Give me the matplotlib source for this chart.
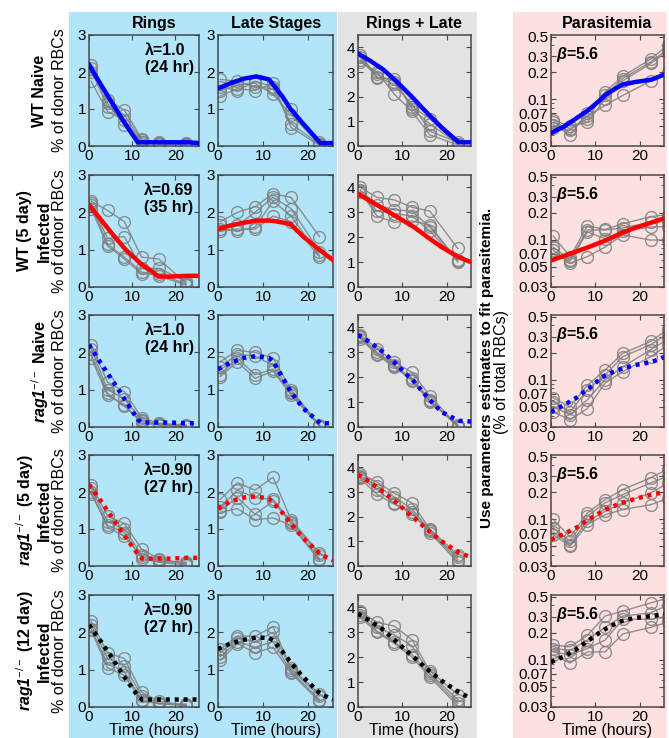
import matplotlib
matplotlib.use('Agg')
import matplotlib.pyplot as plt
from matplotlib.patches import Rectangle
from matplotlib.ticker import FixedLocator, FixedFormatter, NullFormatter

plt.rcParams['font.family'] = ['Liberation Sans', 'DejaVu Sans']
plt.rcParams['mathtext.fontset'] = 'custom'
plt.rcParams['mathtext.rm'] = 'Liberation Sans'
plt.rcParams['mathtext.it'] = 'Liberation Sans:italic:bold'
plt.rcParams['mathtext.sf'] = 'Liberation Sans:italic:bold'
plt.rcParams['mathtext.bf'] = 'Liberation Sans:bold'

# ---------------- data ----------------
col_titles = ["Rings", "Late Stages", "Rings + Late", "Parasitemia"]
row_labels = [
    ["WT Naive"],
    ["WT (5 day)", "Infected"],
    [r"$\mathit{rag}\mathsf{1}^{\mathrm{-/-}}$ Naive"],
    [r"$\mathit{rag}\mathsf{1}^{\mathrm{-/-}}$ (5 day)", "Infected"],
    [r"$\mathit{rag}\mathsf{1}^{\mathrm{-/-}}$ (12 day)", "Infected"],
]
lambda_labels = ["λ=1.0\n(24 hr)", "λ=0.69\n(35 hr)", "λ=1.0\n(24 hr)",
                 "λ=0.90\n(27 hr)", "λ=0.90\n(27 hr)"]
beta_labels = ["5.6", "5.6", "5.6", "5.6", "5.6"]
fit_colors = ["blue", "red", "blue", "red", "black"]
fit_dotted = [False, False, True, True, True]

t_obs = [0.5, 4.3, 8.2, 12.2, 16.2, 22.5]
t_para = [0.5, 4.3, 8.2, 12.2, 16.2, 22.5, 26.3]
t_fit = [0, 2.8, 5.7, 8.5, 11.3, 12.3, 14.2, 16.1, 18.9, 22.7, 25.5]

# row 1: WT naive
rings_wt_naive = [[2.2, 1.25, 0.97, 0.2, 0.08, 0.05],
                  [2.1, 1.05, 0.84, 0.15, 0.05, 0.08],
                  [1.75, 0.93, 0.7, 0.12, 0.1, 0.03],
                  [2.0, 1.15, 0.57, 0.1, 0.06, 0.05]]
late_wt_naive = [[1.8, 1.75, 1.6, 1.55, 0.6, 0.05],
                 [1.5, 1.65, 1.7, 1.4, 0.85, 0.05],
                 [1.35, 1.55, 1.5, 1.7, 0.5, 0.02],
                 [1.6, 1.5, 1.75, 1.6, 1.0, 0.1]]
both_wt_naive = [[3.6, 2.9, 2.6, 1.6, 1.1, 0.1],
                 [3.5, 2.8, 2.5, 1.7, 0.6, 0.15],
                 [3.4, 3.0, 2.1, 1.4, 0.45, 0.05],
                 [3.7, 2.75, 2.7, 1.5, 0.9, 0.1]]
para_wt_naive = [[0.055, 0.047, 0.06, 0.12, 0.18, 0.28, 0.4],
                 [0.052, 0.04, 0.07, 0.11, 0.17, 0.26, 0.36],
                 [0.048, 0.045, 0.065, 0.085, 0.11, 0.16, 0.2],
                 [0.058, 0.05, 0.055, 0.1, 0.16, 0.25, 0.34]]
fit_rings_wt_naive = [2.2, 1.65, 1.1, 0.58, 0.1, 0.1, 0.1, 0.1, 0.1, 0.1, 0.08]
fit_late_wt_naive = [1.55, 1.7, 1.82, 1.88, 1.8, 1.65, 1.35, 1.0, 0.6, 0.08, 0.08]
fit_both_wt_naive = [3.75, 3.45, 3.1, 2.65, 2.15, 1.97, 1.6, 1.25, 0.75, 0.15, 0.15]
fit_para_wt_naive = [0.042, 0.049, 0.061, 0.076, 0.1, 0.112, 0.128, 0.145, 0.155, 0.165, 0.188]

# row 2: WT 5 day infected
rings_wt_inf = [[2.3, 2.05, 1.75, 0.8, 0.75, 0.1],
                [2.25, 1.3, 1.35, 0.5, 0.5, 0.15],
                [2.2, 1.15, 0.8, 0.4, 0.3, 0.05],
                [2.1, 1.1, 0.75, 0.35, 0.35, 0.08]]
late_wt_inf = [[1.75, 2.0, 2.15, 2.5, 2.4, 1.35],
               [1.65, 1.65, 2.0, 2.4, 2.1, 0.95],
               [1.55, 1.5, 1.6, 2.3, 1.9, 0.85],
               [1.5, 1.55, 1.55, 1.9, 1.75, 0.8]]
both_wt_inf = [[4.0, 3.6, 3.5, 3.2, 3.05, 1.55],
               [3.9, 3.3, 3.1, 3.05, 2.4, 1.1],
               [3.8, 3.05, 2.95, 2.85, 2.25, 1.05],
               [3.85, 2.85, 2.6, 2.65, 2.5, 1.0]]
para_wt_inf = [[0.11, 0.065, 0.142, 0.13, 0.15, 0.18, 0.19],
               [0.083, 0.06, 0.128, 0.128, 0.135, 0.156, 0.16],
               [0.077, 0.055, 0.065, 0.083, 0.113, 0.099, 0.1],
               [0.07, 0.058, 0.122, 0.103, 0.125, 0.138, 0.14]]
fit_rings_wt_inf = [2.2, 1.8, 1.38, 1.0, 0.7, 0.6, 0.45, 0.28, 0.28, 0.3, 0.3]
fit_late_wt_inf = [1.55, 1.65, 1.72, 1.78, 1.78, 1.77, 1.73, 1.68, 1.35, 0.98, 0.72]
fit_both_wt_inf = [3.75, 3.45, 3.15, 2.85, 2.55, 2.45, 2.2, 1.95, 1.6, 1.2, 1.0]
fit_para_wt_inf = [0.059, 0.066, 0.074, 0.083, 0.094, 0.098, 0.108, 0.12, 0.135, 0.155, 0.172]

# row 3: rag1 naive
rings_rag_naive = [[2.2, 1.2, 0.95, 0.25, 0.1, 0.05],
                   [2.1, 1.0, 0.75, 0.2, 0.05, 0.03],
                   [1.95, 0.9, 0.55, 0.15, 0.08, 0.02],
                   [1.85, 0.85, 0.6, 0.1, 0.06, 0.04]]
late_rag_naive = [[1.75, 2.05, 2.0, 1.85, 1.0, 0.05],
                  [1.6, 1.95, 1.9, 1.65, 0.95, 0.02],
                  [1.4, 1.85, 1.4, 1.55, 0.9, 0.03],
                  [1.35, 1.75, 1.3, 1.5, 0.85, 0.04]]
both_rag_naive = [[3.7, 3.15, 2.6, 2.2, 1.25, 0.05],
                  [3.65, 3.0, 2.5, 1.95, 1.1, 0.02],
                  [3.55, 2.9, 2.4, 1.9, 1.0, 0.1],
                  [3.6, 2.95, 2.45, 1.85, 1.05, 0.03]]
para_rag_naive = [[0.063, 0.05, 0.087, 0.128, 0.196, 0.265, 0.36],
                  [0.057, 0.044, 0.077, 0.113, 0.18, 0.244, 0.32],
                  [0.05, 0.041, 0.06, 0.1, 0.139, 0.215, 0.28],
                  [0.044, 0.036, 0.048, 0.092, 0.123, 0.18, 0.24]]
fit_rings_rag_naive = [2.2, 1.7, 1.2, 0.7, 0.2, 0.12, 0.12, 0.12, 0.12, 0.1, 0.1]
fit_late_rag_naive = [1.55, 1.72, 1.85, 1.9, 1.85, 1.75, 1.35, 0.95, 0.5, 0.1, 0.1]
fit_both_rag_naive = [3.7, 3.4, 3.0, 2.55, 2.05, 1.9, 1.5, 1.1, 0.6, 0.25, 0.22]
fit_para_rag_naive = [0.044, 0.052, 0.063, 0.08, 0.104, 0.112, 0.123, 0.133, 0.145, 0.157, 0.178]

# row 4: rag1 5 day infected
rings_rag_inf5 = [[2.2, 1.35, 1.15, 0.45, 0.2, 0.05],
                  [2.1, 1.2, 1.0, 0.3, 0.15, 0.08],
                  [1.95, 1.1, 0.9, 0.2, 0.1, 0.03],
                  [2.0, 1.05, 0.8, 0.25, 0.12, 0.1]]
late_rag_inf5 = [[1.8, 2.25, 2.05, 2.4, 1.25, 0.35],
                 [1.6, 2.05, 1.85, 1.8, 1.2, 0.3],
                 [1.5, 1.85, 1.4, 1.75, 1.15, 0.2],
                 [1.45, 1.55, 1.25, 1.3, 1.1, 0.15]]
both_rag_inf5 = [[3.75, 3.4, 2.95, 2.55, 1.5, 0.45],
                 [3.65, 3.25, 2.8, 2.3, 1.45, 0.35],
                 [3.6, 3.1, 2.55, 2.1, 1.4, 0.25],
                 [3.55, 2.9, 2.5, 2.2, 1.35, 0.15]]
para_rag_inf5 = [[0.1, 0.063, 0.117, 0.165, 0.214, 0.29, 0.36],
                 [0.08, 0.057, 0.108, 0.152, 0.188, 0.254, 0.3],
                 [0.072, 0.052, 0.095, 0.122, 0.152, 0.196, 0.25],
                 [0.067, 0.05, 0.087, 0.112, 0.128, 0.145, 0.17]]
fit_rings_rag_inf5 = [2.2, 1.75, 1.25, 0.78, 0.32, 0.2, 0.2, 0.2, 0.2, 0.22, 0.22]
fit_late_rag_inf5 = [1.55, 1.75, 1.85, 1.88, 1.82, 1.7, 1.45, 1.15, 0.75, 0.32, 0.15]
fit_both_rag_inf5 = [3.7, 3.4, 3.0, 2.6, 2.15, 2.0, 1.7, 1.4, 1.0, 0.55, 0.35]
fit_para_rag_inf5 = [0.059, 0.068, 0.08, 0.099, 0.12, 0.128, 0.14, 0.152, 0.168, 0.188, 0.2]

# row 5: rag1 12 day infected
rings_rag_inf12 = [[2.3, 1.45, 1.3, 0.4, 0.15, 0.05],
                   [2.2, 1.3, 1.1, 0.3, 0.1, 0.03],
                   [2.1, 1.15, 0.95, 0.2, 0.08, 0.08],
                   [2.05, 1.05, 0.85, 0.15, 0.1, 0.05]]
late_rag_inf12 = [[1.55, 1.9, 1.9, 2.15, 1.05, 0.35],
                  [1.45, 1.85, 1.75, 2.0, 1.0, 0.3],
                  [1.35, 1.75, 1.6, 1.75, 0.95, 0.2],
                  [1.25, 1.7, 1.45, 1.6, 0.9, 0.15]]
both_rag_inf12 = [[3.85, 3.4, 3.25, 2.7, 1.45, 0.5],
                  [3.8, 3.2, 2.9, 2.45, 1.35, 0.3],
                  [3.7, 3.05, 2.6, 2.1, 1.3, 0.15],
                  [3.6, 3.0, 2.55, 2.0, 1.2, 0.05]]
para_rag_inf12 = [[0.145, 0.139, 0.186, 0.304, 0.345, 0.425, 0.48],
                  [0.133, 0.127, 0.165, 0.228, 0.304, 0.33, 0.4],
                  [0.122, 0.113, 0.133, 0.165, 0.28, 0.28, 0.3],
                  [0.113, 0.092, 0.122, 0.122, 0.193, 0.228, 0.26]]
fit_rings_rag_inf12 = [2.2, 1.75, 1.25, 0.75, 0.3, 0.2, 0.2, 0.2, 0.2, 0.2, 0.2]
fit_late_rag_inf12 = [1.55, 1.7, 1.8, 1.86, 1.85, 1.78, 1.5, 1.2, 0.8, 0.35, 0.2]
fit_both_rag_inf12 = [3.75, 3.45, 3.1, 2.65, 2.2, 2.05, 1.75, 1.45, 1.05, 0.6, 0.35]
fit_para_rag_inf12 = [0.094, 0.108, 0.13, 0.164, 0.205, 0.219, 0.245, 0.269, 0.29, 0.304, 0.318]

x_ticks = [0, 10, 20]
lin_yticks = [[0, 1, 2, 3], [0, 1, 2, 3], [0, 1, 2, 3, 4]]
para_yticks = [0.03, 0.05, 0.07, 0.1, 0.2, 0.3, 0.5]
para_yticklabels = ["0.03", "0.05", "0.07", "0.1", "0.2", "0.3", "0.5"]
para_minor = [0.04, 0.06, 0.08, 0.09, 0.4]

obs_table = [
    [rings_wt_naive, late_wt_naive, both_wt_naive, para_wt_naive],
    [rings_wt_inf, late_wt_inf, both_wt_inf, para_wt_inf],
    [rings_rag_naive, late_rag_naive, both_rag_naive, para_rag_naive],
    [rings_rag_inf5, late_rag_inf5, both_rag_inf5, para_rag_inf5],
    [rings_rag_inf12, late_rag_inf12, both_rag_inf12, para_rag_inf12],
]
fit_table = [
    [fit_rings_wt_naive, fit_late_wt_naive, fit_both_wt_naive, fit_para_wt_naive],
    [fit_rings_wt_inf, fit_late_wt_inf, fit_both_wt_inf, fit_para_wt_inf],
    [fit_rings_rag_naive, fit_late_rag_naive, fit_both_rag_naive, fit_para_rag_naive],
    [fit_rings_rag_inf5, fit_late_rag_inf5, fit_both_rag_inf5, fit_para_rag_inf5],
    [fit_rings_rag_inf12, fit_late_rag_inf12, fit_both_rag_inf12, fit_para_rag_inf12],
]

# ---------------- layout ----------------
W, H = 669, 738
fig = plt.figure(figsize=(W / 100, H / 100), dpi=100)


def fx(x):
    return x / W


def fy(y):
    return 1 - y / H


for x0, x1, c in [(69, 337, '#b2e5f9'), (338, 477, '#e3e3e3'), (513, 667, '#fde0e0')]:
    fig.patches.append(Rectangle((fx(x0), 0), fx(x1) - fx(x0), fy(12),
                                 transform=fig.transFigure, facecolor=c,
                                 edgecolor='none', zorder=-5))

cols = [(89, 199), (218, 333), (358, 471), (551, 664)]
rows = [(35, 146), (175, 287), (315, 427), (455, 566), (595, 707)]
title_x = [154, 276, 414, 607]
spine_c = '#484848'
FS = 11.5
TFS = 11

for j, t in enumerate(col_titles):
    fig.text(fx(title_x[j]), fy(28), t, ha='center', va='baseline',
             fontsize=FS, fontweight='bold')

for i, (top, bot) in enumerate(rows):
    yc = fy((top + bot) / 2)
    labs = row_labels[i]
    if len(labs) == 1:
        fig.text(fx(40), yc, labs[0], rotation=90, ha='center', va='center',
                 fontsize=FS, fontweight='bold')
    else:
        fig.text(fx(25), yc, labs[0], rotation=90, ha='center', va='center',
                 fontsize=FS, fontweight='bold')
        fig.text(fx(44), yc, labs[1], rotation=90, ha='center', va='center',
                 fontsize=FS, fontweight='bold')
    fig.text(fx(59.5), yc, "% of donor RBCs", rotation=90, ha='center',
             va='center', fontsize=FS)

    for j, (l, r) in enumerate(cols):
        ax = fig.add_axes([fx(l), fy(bot), (r - l) / W, (bot - top) / H])
        ax.set_facecolor('none')
        tt = t_para if j == 3 else t_obs
        for mouse in obs_table[i][j]:
            ax.plot(tt, mouse, color='#7f7f7f', lw=1.0, marker='o', ms=8.5,
                    mfc='none', mec='#7f7f7f', mew=1.0, alpha=0.85, zorder=2)
        ls = (0, (0.9, 1.1)) if fit_dotted[i] else '-'
        ax.plot(t_fit, fit_table[i][j], color=fit_colors[i], lw=3.2,
                linestyle=ls, dash_capstyle='butt', zorder=3)
        ax.set_xlim(0, 25.5)
        ax.set_xticks(x_ticks)
        if j < 3:
            ax.set_ylim(0, 3 if j < 2 else 4.5)
            ax.set_yticks(lin_yticks[j])
        else:
            ax.set_yscale('log')
            ax.set_ylim(0.03, 0.52)
            ax.yaxis.set_major_locator(FixedLocator(para_yticks))
            ax.yaxis.set_major_formatter(FixedFormatter(para_yticklabels))
            ax.yaxis.set_minor_locator(FixedLocator(para_minor))
            ax.yaxis.set_minor_formatter(NullFormatter())
        ax.tick_params(direction='in', top=True, right=True, length=3.5,
                       width=0.8, color=spine_c, labelsize=TFS, pad=2)
        ax.tick_params(axis='x', pad=2)
        ax.tick_params(which='minor', direction='in', right=True, left=True,
                       length=2, width=0.6, color=spine_c)
        for s in ax.spines.values():
            s.set_color(spine_c)
            s.set_linewidth(1.1)
        if j == 0:
            ax.text(0.95, 0.93, lambda_labels[i], transform=ax.transAxes,
                    ha='right', va='top', multialignment='left',
                    fontsize=FS, fontweight='bold', linespacing=1.15)
        if j == 3:
            ax.text(0.04, 0.91, r"$\beta$=" + beta_labels[i],
                    transform=ax.transAxes, ha='left', va='top',
                    fontsize=FS, fontweight='bold')
        if i == len(rows) - 1:
            fig.text(fx(title_x[j]), fy(735), "Time (hours)", ha='center',
                     va='baseline', fontsize=FS)

fig.text(fx(487), fy(368), "Use parameters estimates to fit parasitemia.",
         rotation=90, ha='center', va='center', fontsize=11, fontweight='bold')
fig.text(fx(501), fy(372), "(% of total RBCs)", rotation=90, ha='center',
         va='center', fontsize=FS)

fig.savefig('out.png', dpi=100)
